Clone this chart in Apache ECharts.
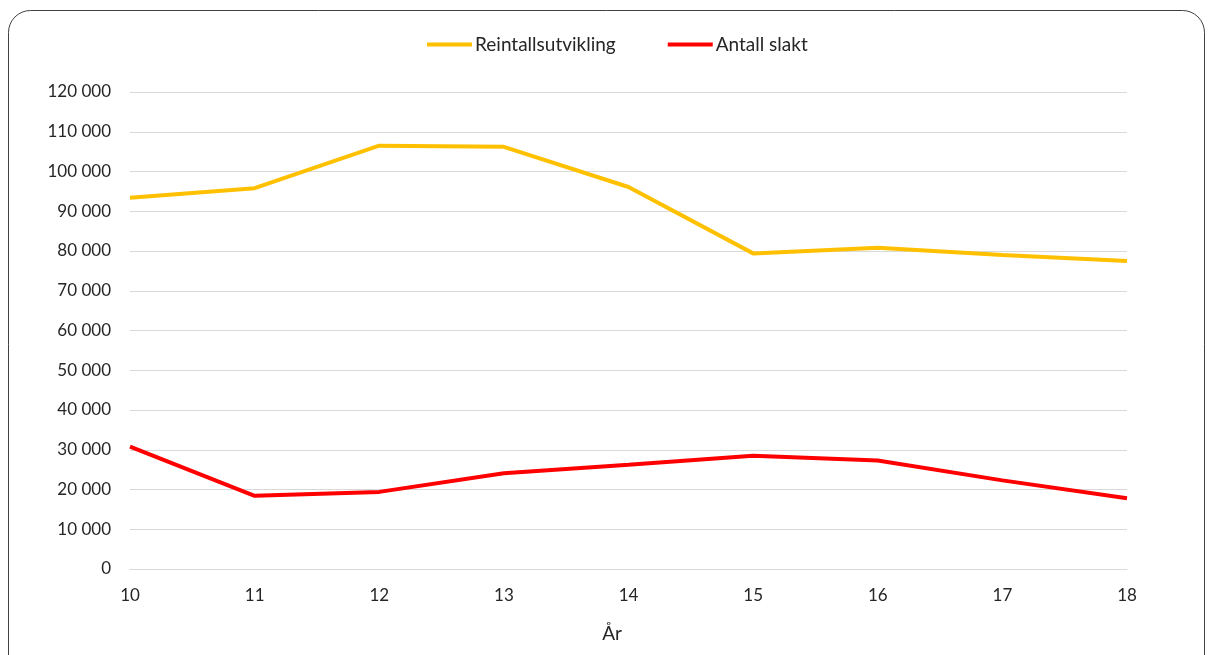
<!DOCTYPE html>
<html>
<head>
<meta charset="utf-8">
<script src="https://cdn.jsdelivr.net/npm/echarts@6/dist/echarts.min.js"></script>
<style>
html,body{margin:0;padding:0;background:#fff;}
#chart{width:1208px;height:655px;}
</style>
</head>
<body>
<div id="chart"></div>
<script>
const years = ['10','11','12','13','14','15','16','17','18'];
const reintall = [93400, 95800, 106500, 106200, 96100, 79400, 80800, 79000, 77500];
const slakt = [30800, 18400, 19400, 24100, 26200, 28500, 27300, 22300, 17800];
const seriesNames = ['Reintallsutvikling', 'Antall slakt'];
const xAxisTitle = 'År';

const FONT = 'Lato, "Open Sans", sans-serif';
const chart = echarts.init(document.getElementById('chart'), null, {renderer: 'canvas'});
chart.setOption({
  animation: false,
  backgroundColor: '#fff',
  graphic: [{
    type: 'rect',
    shape: {x: 8.5, y: 10.5, width: 1196, height: 680, r: 22},
    style: {fill: 'none', stroke: '#404040', lineWidth: 1},
    silent: true, z: -10
  }],
  legend: {
    top: 30,
    left: 422,
    itemWidth: 45,
    itemHeight: 4,
    itemGap: 52,
    icon: 'rect',
    textStyle: {fontFamily: FONT, fontSize: 19, color: '#262626', padding: [0,0,0,-2]},
    data: seriesNames
  },
  grid: {left: 130, right: 81, top: 92, bottom: 86, containLabel: false},
  xAxis: {
    type: 'category',
    data: years,
    boundaryGap: false,
    name: xAxisTitle,
    nameLocation: 'middle',
    nameGap: 55,
    nameTextStyle: {fontFamily: FONT, fontSize: 19, color: '#262626', padding: [0, 33, 0, 0]},
    axisLine: {show: true, lineStyle: {color: '#D9D9D9', width: 1}},
    axisTick: {show: false},
    axisLabel: {fontFamily: FONT, fontSize: 17, color: '#262626', margin: 18},
    splitLine: {show: false}
  },
  yAxis: {
    type: 'value',
    min: 0, max: 120000, interval: 10000,
    axisLine: {show: false},
    axisTick: {show: false},
    axisLabel: {
      fontFamily: FONT, fontSize: 17, color: '#262626', margin: 19,
      formatter: v => String(v).replace(/\B(?=(\d{3})+(?!\d))/g, ' ')
    },
    splitLine: {lineStyle: {color: '#D9D9D9', width: 1}}
  },
  series: [
    {name: seriesNames[0], type: 'line', data: reintall, symbol: 'none',
     lineStyle: {color: '#FFC000', width: 4}, itemStyle: {color: '#FFC000'}},
    {name: seriesNames[1], type: 'line', data: slakt, symbol: 'none',
     lineStyle: {color: '#FF0000', width: 4}, itemStyle: {color: '#FF0000'}}
  ]
});
</script>
</body>
</html>
